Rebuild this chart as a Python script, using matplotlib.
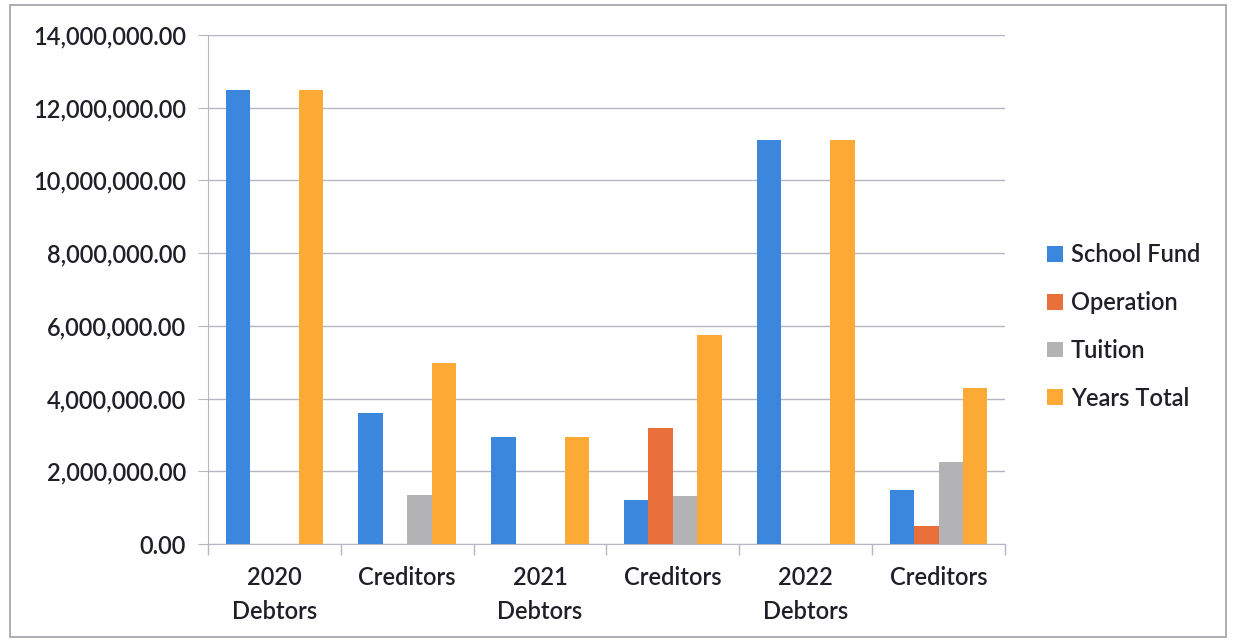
import matplotlib
matplotlib.use("Agg")
import matplotlib.pyplot as plt
import numpy as np
from matplotlib.patches import Rectangle
from matplotlib.ticker import FuncFormatter, MultipleLocator

plt.rcParams['font.family'] = ['Lato', 'DejaVu Sans']

categories = ["2020\nDebtors", "Creditors", "2021\nDebtors", "Creditors", "2022\nDebtors", "Creditors"]
series_names = ["School Fund", "Operation", "Tuition", "Years Total"]
school_fund = [12500000, 3600000, 2950000, 1210000, 11110000, 1490000]
operation = [0, 0, 0, 3180000, 0, 500000]
tuition = [0, 1350000, 0, 1320000, 0, 2250000]
years_total = [12500000, 4980000, 2950000, 5750000, 11110000, 4290000]
colors = ["#3b87dd", "#e9703a", "#b3b3b6", "#fcaa35"]

text_col = "#1f1f28"
fig = plt.figure(figsize=(12.36, 6.42), dpi=100)
ax = fig.add_axes([208 / 1236, 98 / 642, (1005 - 208) / 1236, (544 - 35) / 642])

x = np.arange(len(categories))
width = 0.184
data = [school_fund, operation, tuition, years_total]
for i, (name, vals, col) in enumerate(zip(series_names, data, colors)):
    ax.bar(x + (i - 1.5) * width, vals, width, color=col, label=name, zorder=3)

ax.set_xlim(-0.5, len(categories) - 0.5)
ax.set_ylim(0, 14000000)
ax.yaxis.set_major_locator(MultipleLocator(2000000))
ax.yaxis.set_major_formatter(FuncFormatter(lambda v, p: f"{v:,.2f}"))

grid_col = "#b4b6c4"
ax.grid(axis='y', color=grid_col, linewidth=1.0, zorder=0)
for side in ['top', 'right']:
    ax.spines[side].set_visible(False)
ax.spines['left'].set_color(grid_col)
ax.spines['bottom'].set_color(grid_col)

# category labels centered, tick marks at category boundaries
ax.set_xticks(x)
ax.set_xticklabels(categories, fontsize=17, color=text_col, linespacing=1.55,
                   fontweight='semibold')
ax.tick_params(axis='x', length=0, pad=16)
ax.set_xticks(np.arange(-0.5, len(categories)), minor=True)
ax.tick_params(axis='x', which='minor', length=8, color=grid_col, width=1)
ax.tick_params(axis='y', length=7, color=grid_col, labelsize=17, labelcolor=text_col, pad=9)
for lbl in ax.get_yticklabels():
    lbl.set_fontweight('semibold')

handles, labels = ax.get_legend_handles_labels()
leg = fig.legend(handles, labels, loc='upper left', bbox_to_anchor=(1026 / 1236, 1 - 222 / 642),
                 frameon=False, handlelength=0.65, handleheight=0.65,
                 handletextpad=0.35, labelspacing=1.05,
                 prop={'size': 17, 'weight': 'semibold'})
for t in leg.get_texts():
    t.set_color(text_col)

# chart border
fig.patches.append(Rectangle((10 / 1236, 5 / 642), 1216 / 1236, 632 / 642,
                             transform=fig.transFigure, fill=False,
                             edgecolor="#a0a0a8", linewidth=1.2))

fig.savefig("out.png", dpi=100, facecolor="white")
